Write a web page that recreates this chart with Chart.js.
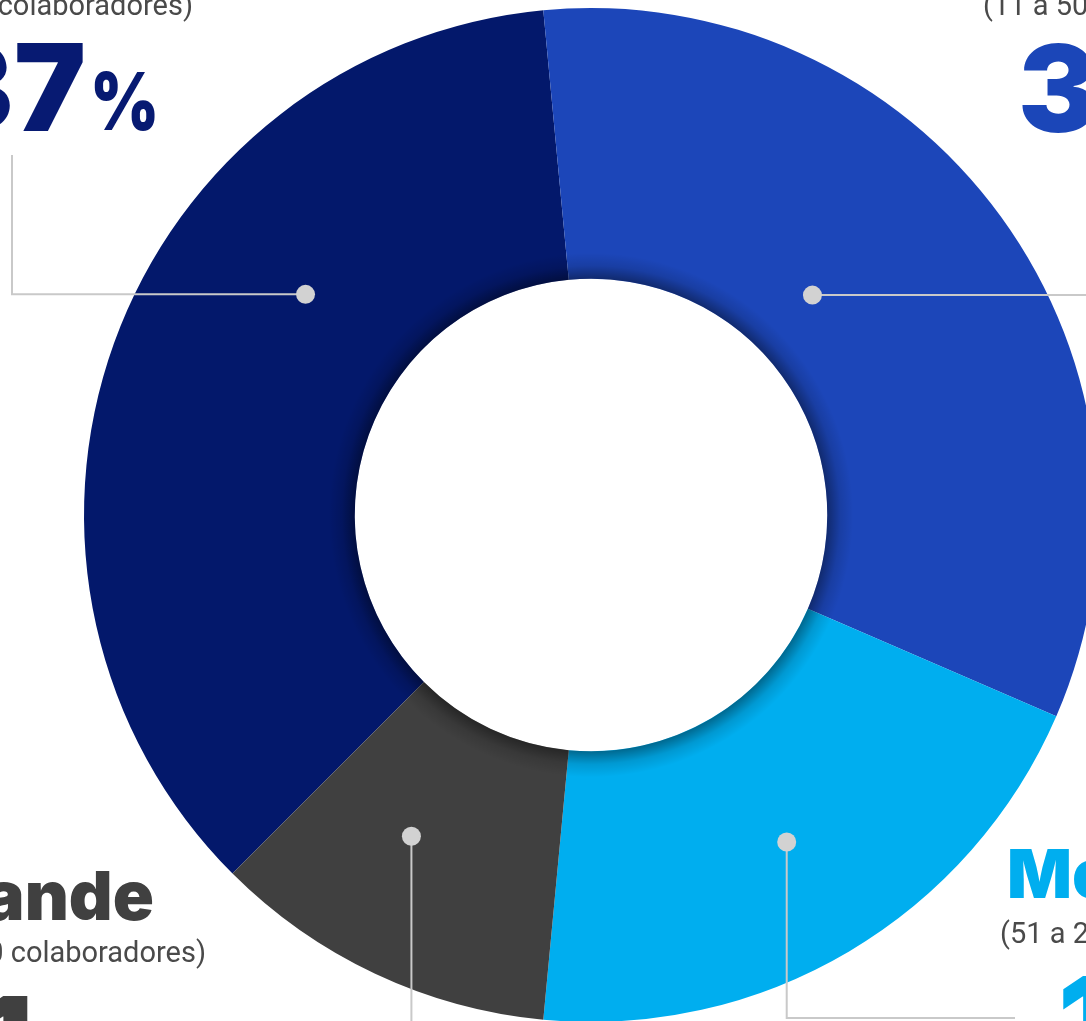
<!DOCTYPE html>
<html>
<head>
<meta charset="utf-8">
<script src="https://cdn.jsdelivr.net/npm/chart.js@4"></script>
<style>
  body { margin: 0; background: #fff; }
  #wrap { position: relative; width: 1086px; height: 1021px; overflow: hidden; background: #fff; }
  #donut { position: absolute; left: 0; top: 0; }
  .lbl { position: absolute; white-space: nowrap; line-height: 1; }
  .sub { font-family: Roboto, sans-serif; font-size: 29px; color: #4a4a4a; font-weight: 400; }
  .name { font-family: Inter, sans-serif; font-size: 68px; font-weight: 900; }
  .big { font-family: Inter, sans-serif; font-size: 121px; font-weight: 900; }
  .pct { font-family: Inter, sans-serif; font-size: 80px; font-weight: 900; transform: scaleX(0.83); transform-origin: left top; }
</style>
</head>
<body>
<div id="wrap">
  <canvas id="donut" width="1100" height="1030"></canvas>

  <div class="lbl sub" style="right:893px; top:-9px;">(1 a 10 colaboradores)</div>
  <div class="lbl big" style="right:1000px; top:27px; color:#071a72;">37</div>
  <div class="lbl pct" style="left:90px; top:61px; color:#071a72;">%</div>

  <div class="lbl sub" style="left:983px; top:-9px;">(11 a 50 colaboradores)</div>
  <div class="lbl big" style="left:1018px; top:28px; color:#1b46b8;">33</div>
  <div class="lbl pct" style="left:1170px; top:62px; color:#1b46b8;">%</div>

  <div class="lbl name" style="left:1007px; top:839px; color:#00aeef;">Mediana</div>
  <div class="lbl sub" style="left:1000px; top:919px;">(51 a 250 colaboradores)</div>
  <div class="lbl big" style="left:1058px; top:960px; color:#00aeef;">19</div>
  <div class="lbl pct" style="left:1200px; top:996px; color:#00aeef;">%</div>

  <div class="lbl name" style="right:932px; top:861px; color:#404040;">Grande</div>
  <div class="lbl sub" style="right:880px; top:938px;">(+ de 250 colaboradores)</div>
  <div class="lbl big" style="right:1053px; top:980px; color:#404040;">11</div>
  <div class="lbl pct" style="left:40px; top:1016px; color:#404040;">%</div>
</div>

<script>
// Datos del gráfico
const categorias = ['Micro', 'Pequeña', 'Mediana', 'Grande'];
const porcentajes = [36, 33, 20, 11];
const colores = ['#03186b', '#1c46b9', '#00aeef', '#404040'];

// Líneas guía: ángulo (grados desde arriba), posición en el anillo (0 = interior, 1 = exterior) y tramos
const guias = [
    { angulo: 307.7, pos: 0.46, tramos: [{ h: 12 }, { v: 155 }] },
    { angulo: 45.2, pos: 0.28, tramos: [{ h: 1100 }] },
    { angulo: 149.1, pos: 0.535, tramos: [{ v: 1018 }, { h: 1015 }] },
    { angulo: 209.2, pos: 0.487, tramos: [{ v: 1040 }] }
];

// Sombra suave del agujero central
const sombraCentro = {
    id: 'sombraCentro',
    afterDatasetsDraw(chart) {
        const arc = chart.getDatasetMeta(0).data[0];
        const { x, y, innerRadius } = arc.getProps(['x', 'y', 'innerRadius'], true);
        const ctx = chart.ctx;
        const ancho = 26;
        const g = ctx.createRadialGradient(x, y, innerRadius, x, y, innerRadius + ancho);
        g.addColorStop(0, 'rgba(0,0,0,0.40)');
        g.addColorStop(0.5, 'rgba(0,0,0,0.12)');
        g.addColorStop(1, 'rgba(0,0,0,0)');
        ctx.save();
        ctx.beginPath();
        ctx.arc(x, y, innerRadius + ancho, 0, Math.PI * 2);
        ctx.arc(x, y, innerRadius, 0, Math.PI * 2, true);
        ctx.fillStyle = g;
        ctx.fill();
        ctx.restore();
    }
};

// Líneas y puntos de referencia
const lineasGuia = {
    id: 'lineasGuia',
    afterDraw(chart) {
        const arc = chart.getDatasetMeta(0).data[0];
        const { x, y, innerRadius, outerRadius } = arc.getProps(['x', 'y', 'innerRadius', 'outerRadius'], true);
        const ctx = chart.ctx;
        ctx.save();
        guias.forEach(g => {
            const r = innerRadius + (outerRadius - innerRadius) * g.pos;
            const a = (g.angulo - 90) * Math.PI / 180;
            let px = x + r * Math.cos(a);
            let py = y + r * Math.sin(a);
            const x0 = px, y0 = py;
            ctx.beginPath();
            ctx.moveTo(px, py);
            g.tramos.forEach(t => {
                if (t.h !== undefined) px = t.h;
                if (t.v !== undefined) py = t.v;
                ctx.lineTo(px, py);
            });
            ctx.strokeStyle = '#c9c9c9';
            ctx.lineWidth = 2;
            ctx.stroke();
            ctx.beginPath();
            ctx.arc(x0, y0, 9.5, 0, Math.PI * 2);
            ctx.fillStyle = '#d2d2d2';
            ctx.fill();
        });
        ctx.restore();
    }
};

new Chart(document.getElementById('donut').getContext('2d'), {
    type: 'doughnut',
    data: {
        labels: categorias,
        datasets: [{
            data: porcentajes,
            backgroundColor: colores,
            borderWidth: 0
        }]
    },
    options: {
        responsive: false,
        animation: false,
        rotation: -135,
        cutout: '46.6%',
        layout: { padding: { left: 84, top: 8, right: 2, bottom: 8 } },
        plugins: {
            legend: { display: false },
            tooltip: { enabled: false }
        }
    },
    plugins: [sombraCentro, lineasGuia]
});
</script>
</body>
</html>
